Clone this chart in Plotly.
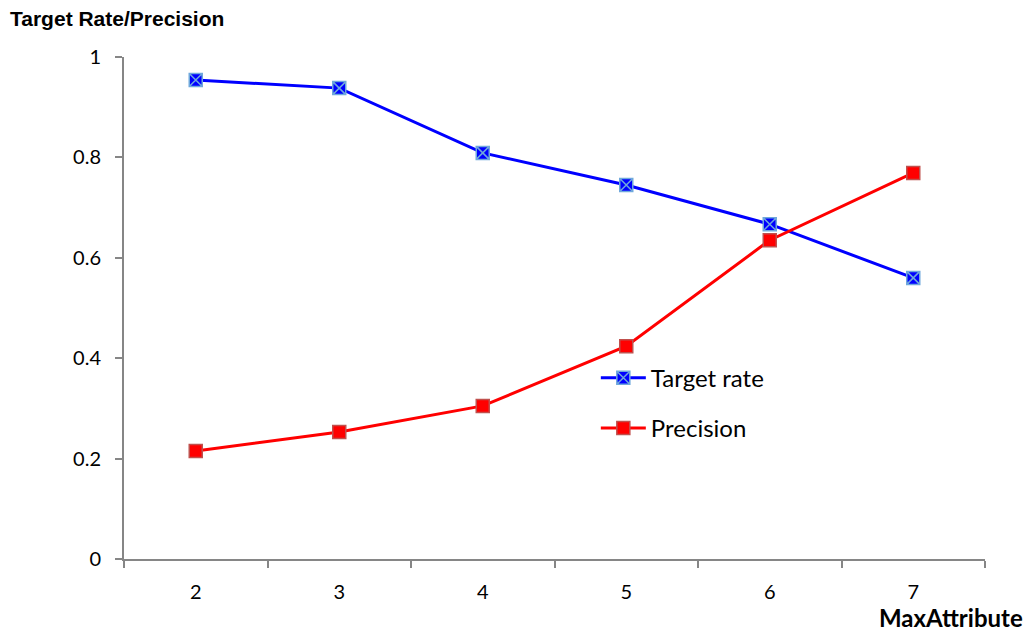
import plotly.graph_objects as go

max_attribute = [2, 3, 4, 5, 6, 7]
target_rate = [0.954, 0.938, 0.809, 0.745, 0.667, 0.560]
precision = [0.215, 0.253, 0.305, 0.424, 0.635, 0.769]

fig = go.Figure()
fig.add_trace(go.Scatter(
    x=max_attribute, y=target_rate, name="Target rate", mode="lines+markers",
    legendgroup="a",
    line=dict(color="#0000FF", width=3),
    marker=dict(symbol="square-x", size=13, color="#0000FF",
                line=dict(color="#6FA8DC", width=1.5)),
))
fig.add_trace(go.Scatter(
    x=max_attribute, y=precision, name="Precision", mode="lines+markers",
    legendgroup="b",
    line=dict(color="#FF0000", width=3),
    marker=dict(symbol="square", size=13, color="#FF0000",
                line=dict(color="#C0504D", width=1.5)),
))

tick_font = dict(family="Lato, Open Sans, sans-serif", size=20, color="#000000")

fig.update_layout(
    width=1031, height=631,
    margin=dict(l=124, r=46, t=57, b=72),
    paper_bgcolor="white", plot_bgcolor="white",
    showlegend=True,
    legend=dict(x=0.548, y=0.405, xanchor="left", yanchor="top",
                font=dict(family="Lato, Open Sans, sans-serif", size=24, color="#000000"),
                itemwidth=45,
                tracegroupgap=16, bgcolor="rgba(0,0,0,0)"),
    xaxis=dict(
        range=[1.5, 7.5], tickvals=max_attribute, ticktext=[str(v) for v in max_attribute],
        ticks="", showgrid=False, zeroline=False,
        showline=True, linecolor="#868686", linewidth=2,
        tickfont=tick_font, ticklabelstandoff=14,
        minor=dict(tick0=1.5, dtick=1, ticks="outside", ticklen=7,
                   tickcolor="#868686", tickwidth=1.5, showgrid=False),
    ),
    yaxis=dict(
        range=[0, 1], tickvals=[0, 0.2, 0.4, 0.6, 0.8, 1],
        ticktext=["0", "0.2", "0.4", "0.6", "0.8", "1"],
        ticks="outside", ticklen=7, tickcolor="#868686", tickwidth=1.5,
        showgrid=False, zeroline=False,
        showline=True, linecolor="#868686", linewidth=2,
        tickfont=tick_font, ticklabelstandoff=10,
    ),
    annotations=[
        dict(text="<b>Target Rate/Precision</b>", xref="paper", yref="paper",
             x=-116/861, y=1 + 39/502, xanchor="left", yanchor="middle", showarrow=False,
             font=dict(family="Liberation Sans, Arial, sans-serif", size=21, color="#000000")),
        dict(text="<b>MaxAttribute</b>", xref="paper", yref="paper",
             x=1 + 40/861, y=-58/502, xanchor="right", yanchor="middle", showarrow=False,
             font=dict(family="Lato, Open Sans, sans-serif", size=24, color="#000000")),
    ],
)

fig.write_html("out.html")
